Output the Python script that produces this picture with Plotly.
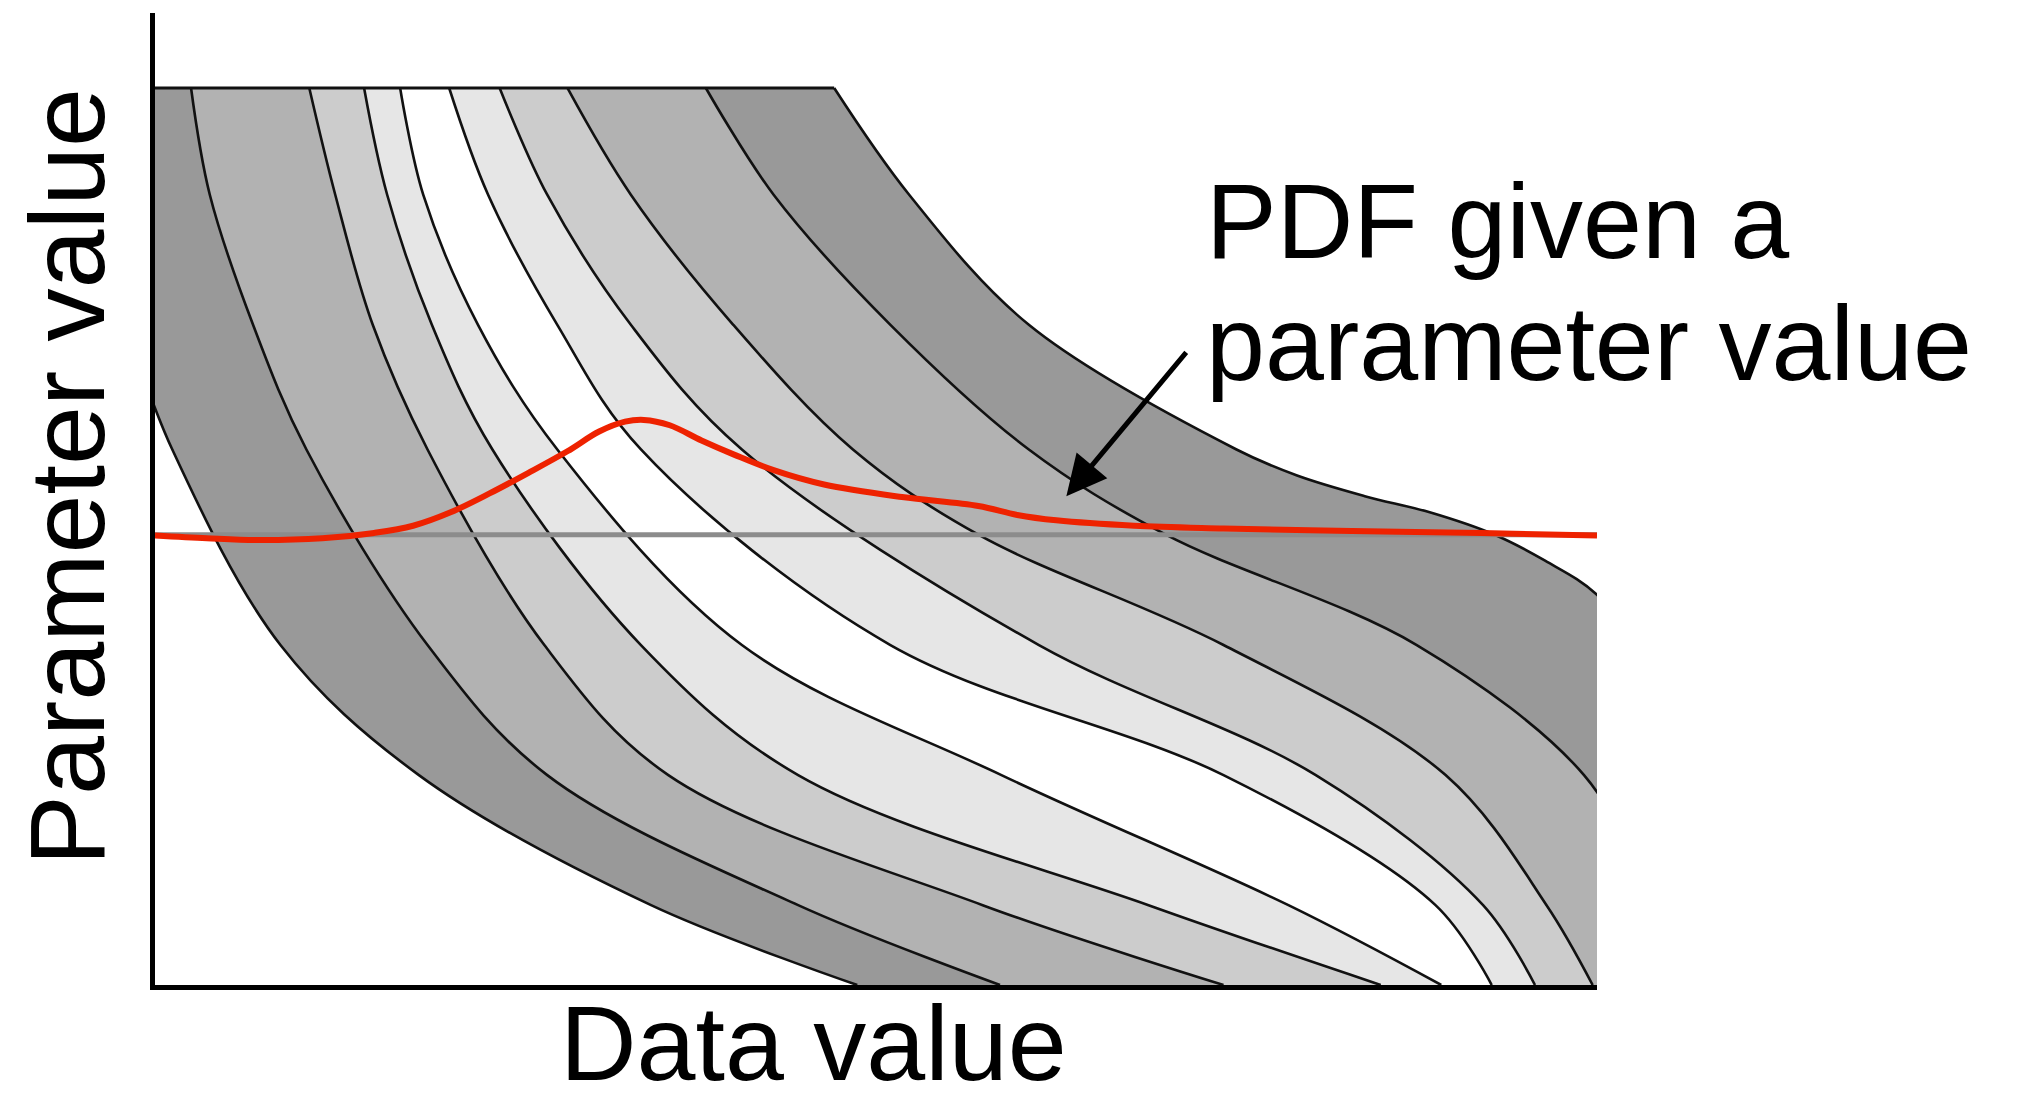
import plotly.graph_objects as go

# Parameter levels (fraction of the parameter range) at which the quantile curves are traced
param_levels = [1.0, 0.881, 0.736, 0.597, 0.379, 0.234, 0.089, 0.0]

# Data-value quantile curves, lowest quantile first
q0_x = [-0.070, -0.056, -0.021, 0.012, 0.087, 0.183, 0.344, 0.487]
q1_x = [0.025, 0.038, 0.068, 0.105, 0.189, 0.272, 0.446, 0.586]
q2_x = [0.107, 0.125, 0.151, 0.189, 0.270, 0.356, 0.574, 0.741]
q3_x = [0.145, 0.161, 0.192, 0.234, 0.337, 0.446, 0.689, 0.850]
q4_x = [0.170, 0.186, 0.224, 0.279, 0.407, 0.587, 0.786, 0.892]
q5_x = [0.204, 0.231, 0.279, 0.337, 0.510, 0.741, 0.888, 0.927]
q6_x = [0.239, 0.272, 0.330, 0.407, 0.613, 0.805, 0.921, 0.957]
q7_x = [0.286, 0.330, 0.401, 0.484, 0.571, 0.741, 0.895, 0.965, 0.997]
q7_y = [1.0, 0.881, 0.736, 0.597, 0.502, 0.379, 0.234, 0.089, 0.0]
q8_x = [0.382, 0.429, 0.510, 0.606, 0.701, 0.875, 0.991, 1.03, 1.06]
q8_y = [1.0, 0.881, 0.736, 0.597, 0.502, 0.379, 0.234, 0.12, 0.0]
q9_x = [0.471, 0.523, 0.606, 0.750, 0.792, 0.839, 0.884, 0.929, 0.964, 1.0, 1.04, 1.08, 1.12]
q9_y = [1.0, 0.881, 0.736, 0.597, 0.568, 0.545, 0.527, 0.502, 0.473, 0.435, 0.35, 0.2, 0.0]

# Shading of the band between consecutive quantile curves
band_fills = ["#999999", "#b2b2b2", "#cccccc", "#e6e6e6", "#ffffff",
              "#e6e6e6", "#cccccc", "#b2b2b2", "#999999"]

# Chosen parameter value (horizontal slice) and the PDF of the data along it
slice_level = 0.502
pdf_x = [0.000, 0.036, 0.071, 0.116, 0.152, 0.179, 0.205, 0.232, 0.259, 0.286,
         0.308, 0.326, 0.339, 0.357, 0.379, 0.402, 0.429, 0.464, 0.518, 0.571,
         0.598, 0.625, 0.679, 0.741, 0.830, 0.920, 1.000]
pdf_y = [0.501, 0.498, 0.496, 0.498, 0.504, 0.512, 0.527, 0.548, 0.571, 0.595,
         0.617, 0.628, 0.630, 0.624, 0.607, 0.591, 0.574, 0.558, 0.544, 0.534,
         0.524, 0.518, 0.512, 0.509, 0.506, 0.504, 0.501]

# Arrow pointing at the PDF curve: tip and tail
arrow_tip = (0.632, 0.545)
arrow_tail = (0.716, 0.707)

curves = [
    (q0_x, param_levels), (q1_x, param_levels), (q2_x, param_levels),
    (q3_x, param_levels), (q4_x, param_levels), (q5_x, param_levels),
    (q6_x, param_levels), (q7_x, q7_y), (q8_x, q8_y), (q9_x, q9_y),
]

FONT = "Liberation Sans"
Y_TOP = 1.0836
SPLINE = dict(shape="spline", smoothing=1.0, simplify=False)


def pinned(seq):
    """Repeat the end points so the spline meets them with a sharp corner."""
    seq = list(seq)
    return [seq[0]] + seq + [seq[-1]]


fig = go.Figure()

# Filled bands: down one curve, back up the next, straight across the top
for i in range(len(curves) - 1):
    lx, ly = curves[i]
    rx, ry = curves[i + 1]
    bx = pinned(lx) + pinned(rx)[::-1]
    by = pinned(ly) + pinned(ry)[::-1]
    fig.add_trace(go.Scatter(
        x=bx, y=by, mode="lines", fill="toself", fillcolor=band_fills[i],
        line=dict(color=band_fills[i], width=0.5, **SPLINE),
        hoverinfo="skip", showlegend=False,
    ))

# Quantile curve outlines
for cx, cy in curves:
    fig.add_trace(go.Scatter(
        x=pinned(cx), y=pinned(cy), mode="lines",
        line=dict(color="#111111", width=2.6, **SPLINE),
        hoverinfo="skip", showlegend=False,
    ))

# Upper edge of the band stack
fig.add_trace(go.Scatter(
    x=[0.0, q9_x[0]], y=[1.0, 1.0], mode="lines",
    line=dict(color="#111111", width=3), hoverinfo="skip", showlegend=False,
))

# Horizontal slice at the chosen parameter value
fig.add_trace(go.Scatter(
    x=[0.0, 1.0], y=[slice_level, slice_level], mode="lines",
    line=dict(color="#8c8c8c", width=5), hoverinfo="skip", showlegend=False,
))

# PDF of the data given that parameter value
fig.add_trace(go.Scatter(
    x=pdf_x, y=pdf_y, mode="lines",
    line=dict(color="#ee2200", width=6, shape="spline", smoothing=1.0),
    hoverinfo="skip", showlegend=False,
))

fig.add_annotation(
    x=arrow_tip[0], y=arrow_tip[1], xref="x", yref="y",
    ax=arrow_tail[0], ay=arrow_tail[1], axref="x", ayref="y",
    text="", showarrow=True, arrowhead=2, arrowsize=1.6, arrowwidth=5,
    arrowcolor="#000000",
)

text_font = dict(family=FONT, size=106, color="#000000")
fig.add_annotation(text="PDF given a", xref="paper", yref="paper",
                   x=0.7275, y=0.786, xanchor="left", yanchor="middle",
                   showarrow=False, font=text_font)
fig.add_annotation(text="parameter value", xref="paper", yref="paper",
                   x=0.7275, y=0.660, xanchor="left", yanchor="middle",
                   showarrow=False, font=text_font)
fig.add_annotation(text="Data value", xref="paper", yref="paper",
                   x=0.457, y=-0.0597, xanchor="center", yanchor="middle",
                   showarrow=False, font=text_font)
fig.add_annotation(text="Parameter value", xref="paper", yref="paper",
                   x=-0.061, y=0.523, xanchor="center", yanchor="middle",
                   textangle=-90, showarrow=False, font=text_font)

axis_common = dict(showgrid=False, zeroline=False, showticklabels=False,
                   ticks="", showline=True, linecolor="#000000", linewidth=5)
fig.update_xaxes(range=[0, 1], **axis_common)
fig.update_yaxes(range=[0, Y_TOP], **axis_common)

fig.update_layout(
    width=2020, height=1103,
    margin=dict(l=155, r=423, t=13, b=118),
    paper_bgcolor="#ffffff", plot_bgcolor="#ffffff",
    showlegend=False,
)

fig.write_html("out.html")
